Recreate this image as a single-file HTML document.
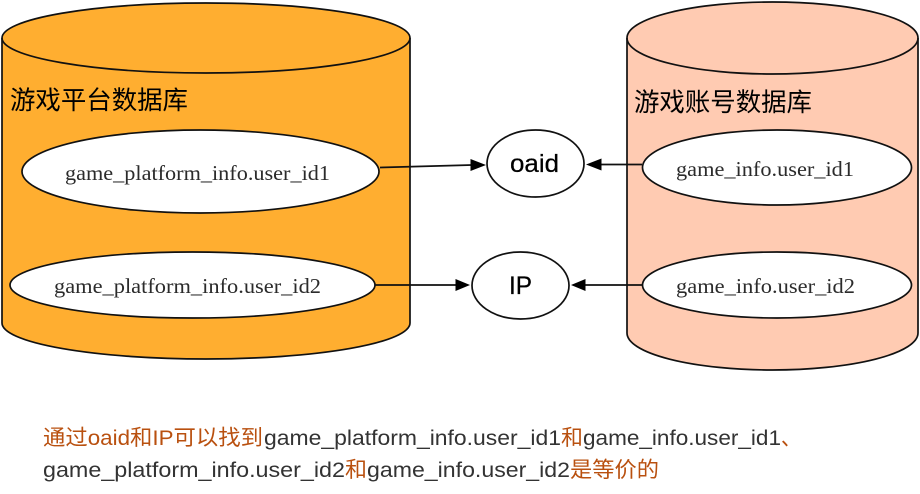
<!DOCTYPE html>
<html><head><meta charset="utf-8"><style>
html,body{margin:0;padding:0;background:#fff;width:920px;height:494px;overflow:hidden}
svg{display:block;filter:blur(0.25px)}
.s{font-family:"Liberation Serif",serif;font-size:21px;fill:#2b2b2b}
.h{font-family:"Liberation Sans","Noto Sans CJK SC",sans-serif;font-size:25.500px;fill:#000}
.n{font-family:"Liberation Sans",sans-serif;font-size:25px;fill:#000;stroke:#000;stroke-width:.25px}
.b{font-family:"Liberation Sans","Noto Sans CJK SC",sans-serif;font-size:21.500px;fill:#333}
.o{fill:#b9500f}
</style></head><body>
<svg width="920" height="494" viewBox="0 0 920 494" xmlns="http://www.w3.org/2000/svg">
<g stroke="#111" stroke-width="1.700">
<path d="M2 38A204 35 0 0 1 410 38V323A204 36 0 0 1 2 323Z" fill="#ffae30"/>
<path d="M2 38A204 35 0 0 0 410 38" fill="none"/>
<path d="M627 38A145.500 36 0 0 1 918 38V333A145.500 37 0 0 1 627 333Z" fill="#ffcbb2"/>
<path d="M627 38A145.500 36 0 0 0 918 38" fill="none"/>
<ellipse cx="200.500" cy="171.500" rx="178.500" ry="41.500" fill="#fff"/>
<ellipse cx="192.500" cy="285" rx="182.500" ry="33" fill="#fff"/>
<ellipse cx="777" cy="167.500" rx="134.500" ry="37.500" fill="#fff"/>
<ellipse cx="777" cy="285" rx="134.500" ry="33" fill="#fff"/>
<ellipse cx="535.500" cy="163.500" rx="48.500" ry="33.500" fill="#fff"/>
<ellipse cx="520.500" cy="285.500" rx="48.500" ry="33.500" fill="#fff"/>
<path d="M380 167.500L472 165M642 164.500H600M375 285H457M642 285H584" fill="none"/>
</g>
<path d="M486 165L470.500 159V171Z M586 164.500L601.500 158.500V170.500Z M470 285L455.500 279V291Z M571 285L585.500 279V291Z" fill="#000"/>
<text class="h" x="10" y="109" textLength="178" lengthAdjust="spacingAndGlyphs">游戏平台数据库</text>
<text class="h" x="634" y="111" textLength="178" lengthAdjust="spacingAndGlyphs">游戏账号数据库</text>
<text class="s" x="65" y="180" textLength="265" lengthAdjust="spacingAndGlyphs">game_platform_info.user_id1</text>
<text class="s" x="54" y="293" textLength="267" lengthAdjust="spacingAndGlyphs">game_platform_info.user_id2</text>
<text class="s" x="676" y="176" textLength="178" lengthAdjust="spacingAndGlyphs">game_info.user_id1</text>
<text class="s" x="676" y="293" textLength="179" lengthAdjust="spacingAndGlyphs">game_info.user_id2</text>
<text class="n" x="510" y="172" textLength="49" lengthAdjust="spacingAndGlyphs">oaid</text>
<text class="n" x="509" y="294" textLength="23" lengthAdjust="spacingAndGlyphs">IP</text>
<text class="b o" x="43" y="445" textLength="220" lengthAdjust="spacingAndGlyphs">通过oaid和IP可以找到</text>
<text class="b" x="264" y="445" textLength="297" lengthAdjust="spacingAndGlyphs">game_platform_info.user_id1</text>
<text class="b o" x="561" y="445" textLength="22" lengthAdjust="spacingAndGlyphs">和</text>
<text class="b" x="583" y="445" textLength="198" lengthAdjust="spacingAndGlyphs">game_info.user_id1</text>
<text class="b o" x="781" y="445" textLength="20" lengthAdjust="spacingAndGlyphs">、</text>
<text class="b" x="43" y="477" textLength="302" lengthAdjust="spacingAndGlyphs">game_platform_info.user_id2</text>
<text class="b o" x="345" y="477" textLength="22" lengthAdjust="spacingAndGlyphs">和</text>
<text class="b" x="367" y="477" textLength="203" lengthAdjust="spacingAndGlyphs">game_info.user_id2</text>
<text class="b o" x="570" y="477" textLength="89" lengthAdjust="spacingAndGlyphs">是等价的</text>
</svg>
</body></html>
